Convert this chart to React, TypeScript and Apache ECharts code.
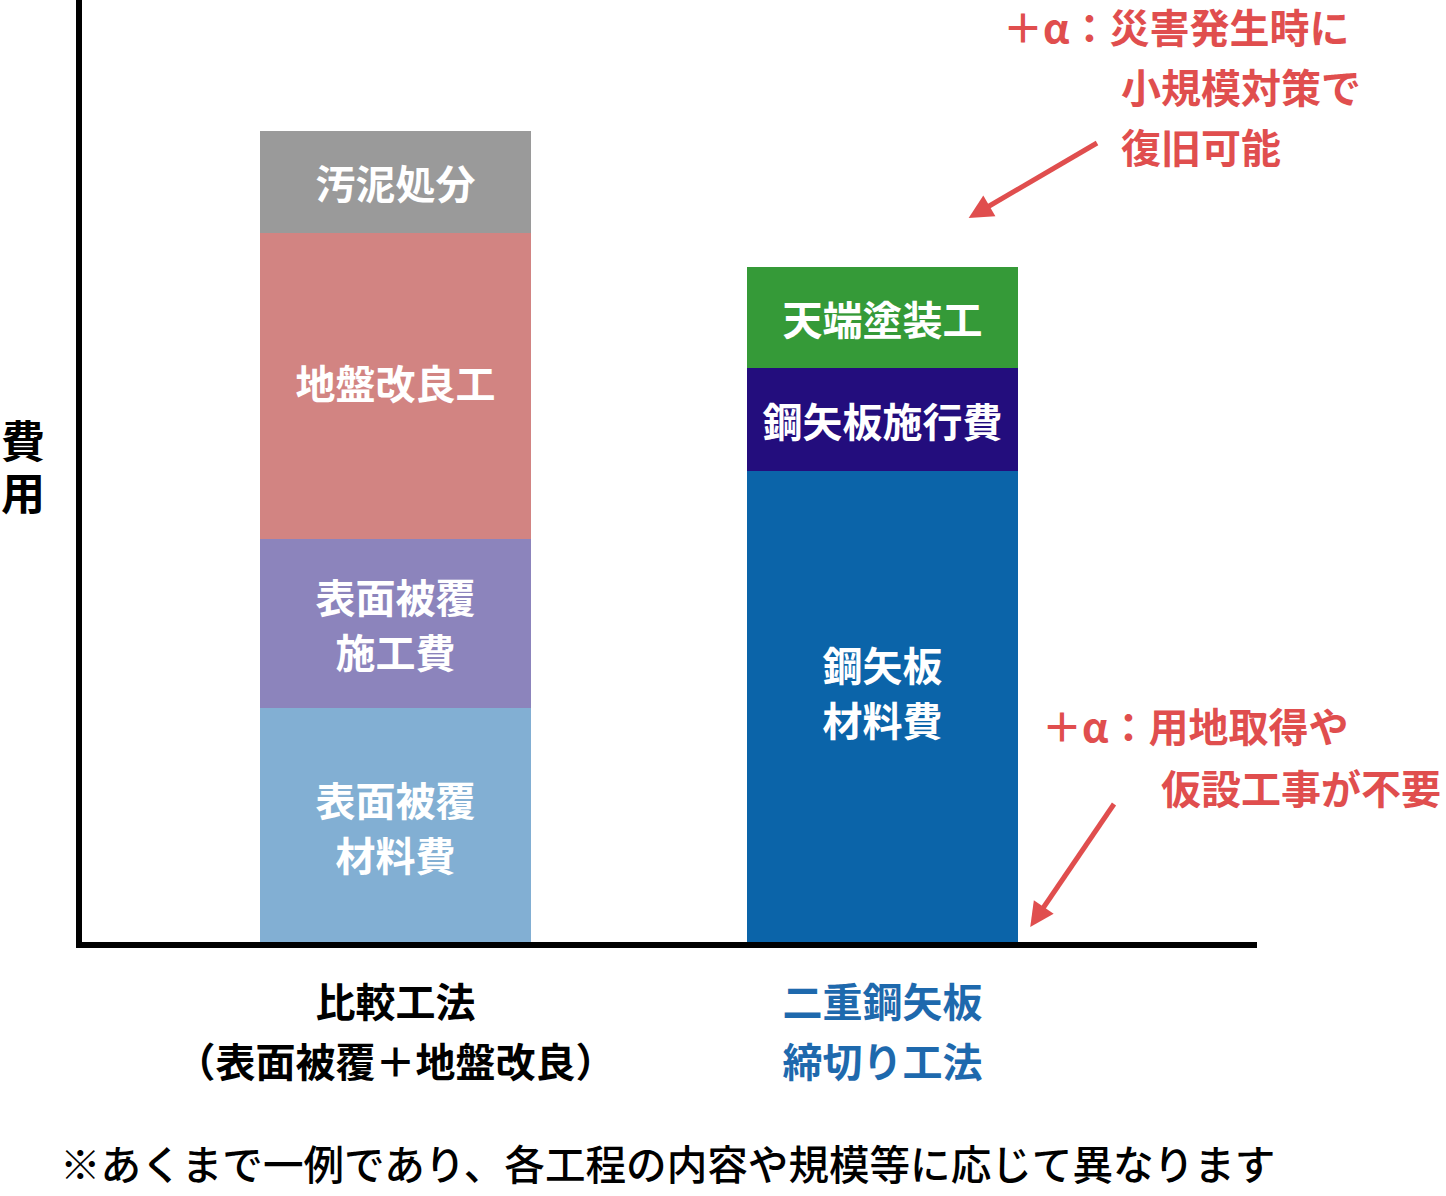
import { useEffect, useRef } from "react";
import * as echarts from "echarts";

const FONT = '"Noto Sans CJK JP", "Noto Sans", sans-serif';

// the two construction methods (x categories)
const methodNames = ["比較工法\n（表面被覆＋地盤改良）", "二重鋼矢板\n締切り工法"];

// cost breakdown (bottom to top)
const comparisonItems = ["表面被覆\n材料費", "表面被覆\n施工費", "地盤改良工", "汚泥処分"];
const comparisonValues = [23.7, 16.9, 30.6, 10.2];
const steelItems = ["鋼矢板\n材料費", "鋼矢板施行費", "天端塗装工"];
const steelValues = [47.4, 10.3, 10.1];

const comparisonColors = ["#82AFD3", "#8C84BC", "#D28482", "#9A9A9A"];
const steelColors = ["#0B64A9", "#230D7D", "#359A38"];

const yAxisName = ["費", "用"];
const noteText = "※あくまで一例であり、各工程の内容や規模等に応じて異なります";
const disasterNote = ["＋α：災害発生時に", "小規模対策で", "復旧可能"];
const landNote = ["＋α：用地取得や", "仮設工事が不要"];

const RED = "#E04E4E";

export default function App() {
  const chartRef = useRef<HTMLDivElement>(null);

  useEffect(() => {
    if (!chartRef.current) return;
    const chart = echarts.init(chartRef.current, undefined, { renderer: "svg" });

    const segmentLabel = (offsetY = 0) => ({
      show: true,
      position: "inside",
      // eslint-disable-next-line @typescript-eslint/no-explicit-any
      formatter: (p: any) => p.seriesName,
      color: "#ffffff",
      fontSize: 40,
      fontWeight: "bold",
      lineHeight: 55,
      fontFamily: FONT,
      offset: [0, offsetY],
    });

    const comparisonSeries = comparisonItems.map((name, i) => ({
      type: "bar",
      name,
      stack: "total",
      barWidth: 271,
      xAxisIndex: 0,
      yAxisIndex: 0,
      data: [comparisonValues[i], "-"],
      itemStyle: { color: comparisonColors[i] },
      label: segmentLabel(i === 2 ? -4 : 0),
    }));

    const steelSeries = steelItems.map((name, i) => ({
      type: "bar",
      name,
      stack: "total",
      barWidth: 271,
      xAxisIndex: 0,
      yAxisIndex: 0,
      data: ["-", steelValues[i]],
      itemStyle: { color: steelColors[i] },
      label: segmentLabel(i === 0 ? -17 : 0),
    }));

    // annotation arrows
    // eslint-disable-next-line @typescript-eslint/no-explicit-any
    (steelSeries[2] as any).markLine = {
      silent: true,
      symbol: ["none", "triangle"],
      symbolSize: 24,
      label: { show: false },
      itemStyle: { color: RED },
      lineStyle: { color: RED, width: 5, type: "solid" },
      data: [
        [{ x: 1097, y: 143 }, { x: 979, y: 212 }],
        [{ x: 1114, y: 804 }, { x: 1037, y: 917 }],
      ],
    };

    const textEl = (text: string, x: number, y: number, fill: string, weight: string | number = "bold", size = 40) => ({
      type: "text",
      x,
      y,
      style: {
        text,
        fill,
        fontSize: size,
        fontWeight: weight,
        fontFamily: FONT,
        align: "left",
        verticalAlign: "middle",
      },
    });

    const axisLineStyle = { color: "#000000", width: 6, cap: "square" };

    chart.setOption({
      animation: false,
      backgroundColor: "#ffffff",
      textStyle: { fontFamily: FONT },
      grid: [
        // bars
        { left: 152, top: 0, width: 974, height: 945, containLabel: false, outerBoundsMode: "none" },
        // frame for the long x axis line
        { left: 79, top: 0, width: 1175, height: 945, containLabel: false, outerBoundsMode: "none" },
      ],
      xAxis: [
        {
          type: "category",
          gridIndex: 0,
          data: methodNames,
          axisLine: { show: false },
          axisTick: { show: false },
          splitLine: { show: false },
          axisLabel: {
            margin: 25,
            interval: 0,
            formatter: (value: string, idx: number) =>
              value
                .split("\n")
                .map((l) => `{c${idx}|${l}}`)
                .join("\n"),
            rich: {
              c0: { color: "#000000", fontSize: 40, fontWeight: "bold", lineHeight: 60, fontFamily: FONT },
              c1: { color: "#1E69AD", fontSize: 40, fontWeight: "bold", lineHeight: 60, fontFamily: FONT },
            },
          },
        },
        {
          type: "value",
          gridIndex: 1,
          z: 10,
          axisLine: { show: true, onZero: false, lineStyle: axisLineStyle },
          axisTick: { show: false },
          axisLabel: { show: false },
          splitLine: { show: false },
        },
      ],
      yAxis: [
        {
          type: "value",
          gridIndex: 0,
          min: 0,
          max: 94.5,
          offset: 73,
          z: 10,
          // trailing spacer line lifts the name slightly above the axis middle
          name: yAxisName.map((c) => `{n|${c}}`).join("\n") + "\n{s| }",
          nameLocation: "middle",
          nameGap: 34,
          nameRotate: 0,
          nameTextStyle: {
            color: "#000000",
            fontFamily: FONT,
            rich: {
              n: { color: "#000000", fontSize: 44, fontWeight: "bold", lineHeight: 52, fontFamily: FONT },
              s: { fontSize: 10, lineHeight: 16 },
            },
          },
          axisLine: { show: true, onZero: false, lineStyle: axisLineStyle },
          axisTick: { show: false },
          axisLabel: { show: false },
          splitLine: { show: false },
        },
        {
          type: "value",
          gridIndex: 1,
          show: false,
        },
      ],
      series: [...comparisonSeries, ...steelSeries],
      graphic: [
        textEl(disasterNote[0], 1003, 26, RED),
        textEl(disasterNote[1], 1121, 86, RED),
        textEl(disasterNote[2], 1121, 146, RED),
        textEl(landNote[0], 1042, 725, RED),
        textEl(landNote[1], 1161, 787, RED),
        textEl(noteText, 60, 1162, "#000000", 500, 40.6),
      ],
    });

    return () => {
      chart.dispose();
    };
  }, []);

  return (
    <div
      ref={chartRef}
      style={{ position: "absolute", left: 0, top: 0, width: 1446, height: 1196 }}
    />
  );
}
